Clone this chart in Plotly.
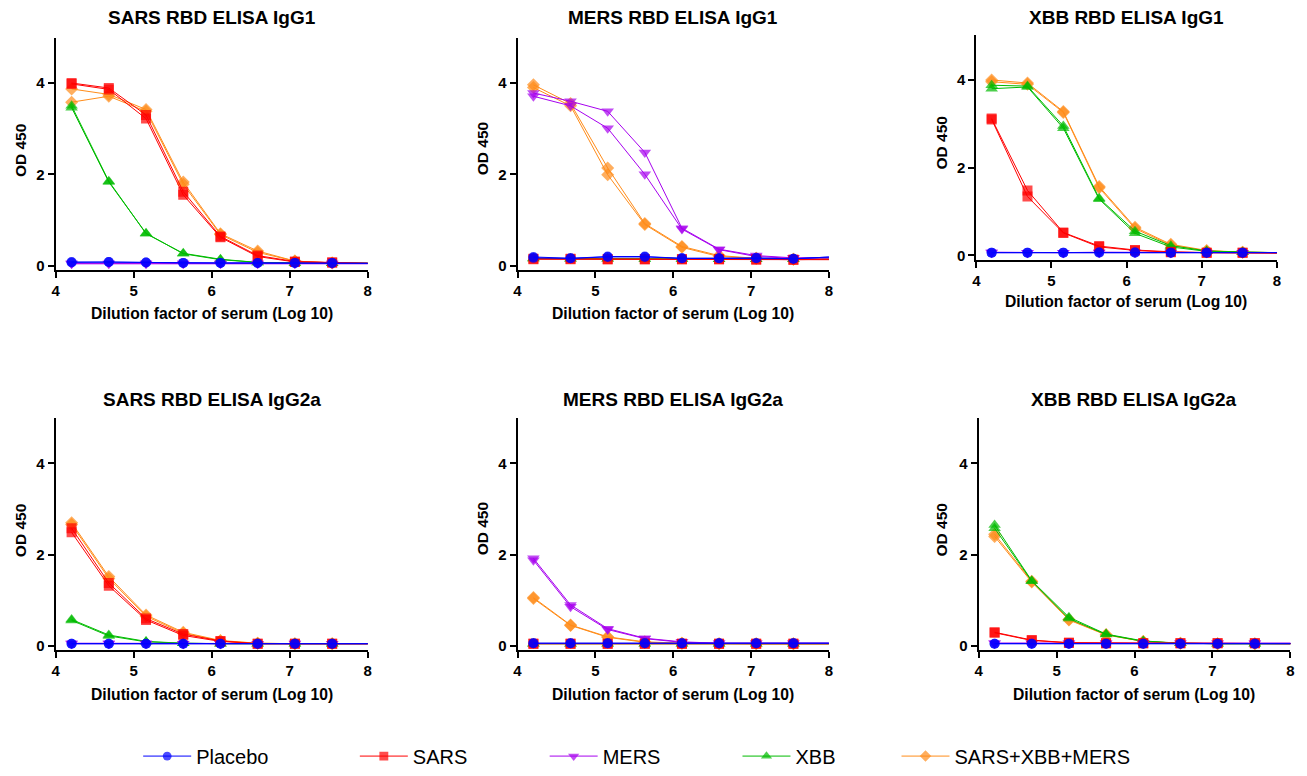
import plotly.graph_objects as go

# ---------------- data ----------------
# Dilution factor of serum (log10): 16000 x 3^k ; last point lies just beyond the axis end (clipped)
dilution_log10 = [4.204, 4.681, 5.158, 5.635, 6.112, 6.589, 7.066, 7.544, 8.021]

groups = ["Placebo", "SARS", "MERS", "XBB", "SARS+XBB+MERS"]
colors = ["#0000FF", "#FF0000", "#A600EE", "#00BB00", "#FF8C1A"]
symbols = ["circle", "square", "triangle-down", "triangle-up", "diamond"]

panel_titles = ["SARS RBD ELISA IgG1", "MERS RBD ELISA IgG1", "XBB RBD ELISA IgG1",
                "SARS RBD ELISA IgG2a", "MERS RBD ELISA IgG2a", "XBB RBD ELISA IgG2a"]
x_title = "Dilution factor of serum (Log 10)"
y_title = "OD 450"
x_ticks = [4, 5, 6, 7, 8]
y_ticks = [0, 2, 4]

# OD450 per panel and group, two replicate curves each
sars_igg1_placebo = [[0.08, 0.08, 0.07, 0.06, 0.06, 0.06, 0.06, 0.06, 0.05],
                     [0.07, 0.08, 0.07, 0.06, 0.06, 0.06, 0.06, 0.06, 0.05]]
sars_igg1_sars = [[4.00, 3.89, 3.30, 1.62, 0.64, 0.22, 0.09, 0.07, 0.05],
                  [3.98, 3.86, 3.22, 1.55, 0.62, 0.20, 0.08, 0.07, 0.05]]
sars_igg1_mers = [[0.05, 0.05, 0.05, 0.05, 0.05, 0.05, 0.05, 0.05, 0.05],
                  [0.04, 0.04, 0.04, 0.04, 0.04, 0.04, 0.04, 0.04, 0.04]]
sars_igg1_xbb = [[3.50, 1.85, 0.70, 0.27, 0.14, 0.07, 0.06, 0.05, 0.05],
                 [3.46, 1.83, 0.71, 0.26, 0.13, 0.07, 0.06, 0.05, 0.05]]
sars_igg1_combo = [[3.87, 3.75, 3.42, 1.83, 0.70, 0.32, 0.10, 0.06, 0.05],
                   [3.58, 3.71, 3.38, 1.78, 0.68, 0.29, 0.10, 0.06, 0.05]]

mers_igg1_placebo = [[0.19, 0.16, 0.20, 0.20, 0.16, 0.16, 0.17, 0.15, 0.19],
                     [0.17, 0.16, 0.19, 0.19, 0.16, 0.16, 0.16, 0.15, 0.19]]
mers_igg1_sars = [[0.15, 0.15, 0.14, 0.14, 0.14, 0.14, 0.14, 0.13, 0.14],
                  [0.14, 0.14, 0.14, 0.14, 0.14, 0.14, 0.13, 0.13, 0.13]]
mers_igg1_mers = [[3.78, 3.60, 3.38, 2.48, 0.82, 0.36, 0.22, 0.17, 0.17],
                  [3.71, 3.50, 3.01, 2.00, 0.80, 0.35, 0.20, 0.16, 0.17]]
mers_igg1_xbb = [[0.16, 0.15, 0.15, 0.15, 0.15, 0.14, 0.14, 0.14, 0.14],
                 [0.15, 0.15, 0.15, 0.14, 0.14, 0.14, 0.14, 0.14, 0.14]]
mers_igg1_combo = [[3.96, 3.55, 2.14, 0.92, 0.42, 0.22, 0.16, 0.14, 0.14],
                   [3.90, 3.50, 1.99, 0.90, 0.40, 0.20, 0.16, 0.14, 0.14]]

xbb_igg1_placebo = [[0.06, 0.06, 0.06, 0.07, 0.07, 0.06, 0.06, 0.06, 0.06],
                    [0.06, 0.06, 0.06, 0.06, 0.06, 0.06, 0.06, 0.06, 0.06]]
xbb_igg1_sars = [[3.12, 1.48, 0.52, 0.21, 0.12, 0.08, 0.06, 0.06, 0.05],
                 [3.10, 1.34, 0.51, 0.19, 0.11, 0.07, 0.06, 0.06, 0.05]]
xbb_igg1_mers = [[0.07, 0.06, 0.06, 0.07, 0.07, 0.06, 0.06, 0.06, 0.06],
                 [0.06, 0.06, 0.06, 0.06, 0.06, 0.06, 0.06, 0.06, 0.06]]
xbb_igg1_xbb = [[3.88, 3.86, 2.95, 1.30, 0.55, 0.22, 0.10, 0.07, 0.06],
                [3.80, 3.84, 2.90, 1.28, 0.50, 0.19, 0.09, 0.07, 0.06]]
xbb_igg1_combo = [[4.00, 3.93, 3.28, 1.57, 0.64, 0.25, 0.11, 0.07, 0.06],
                  [3.96, 3.90, 3.26, 1.54, 0.61, 0.23, 0.10, 0.07, 0.06]]

sars_igg2a_placebo = [[0.05, 0.05, 0.05, 0.05, 0.05, 0.05, 0.05, 0.05, 0.05],
                      [0.05, 0.05, 0.05, 0.05, 0.05, 0.05, 0.05, 0.05, 0.05]]
sars_igg2a_sars = [[2.58, 1.38, 0.60, 0.26, 0.11, 0.05, 0.05, 0.05, 0.05],
                   [2.49, 1.32, 0.57, 0.23, 0.10, 0.05, 0.05, 0.05, 0.05]]
sars_igg2a_mers = [[0.06, 0.06, 0.06, 0.05, 0.05, 0.05, 0.06, 0.05, 0.05],
                   [0.05, 0.05, 0.05, 0.05, 0.05, 0.05, 0.05, 0.05, 0.05]]
sars_igg2a_xbb = [[0.58, 0.24, 0.10, 0.06, 0.05, 0.05, 0.05, 0.05, 0.05],
                  [0.56, 0.22, 0.09, 0.06, 0.05, 0.05, 0.05, 0.05, 0.05]]
sars_igg2a_combo = [[2.70, 1.52, 0.68, 0.30, 0.12, 0.06, 0.05, 0.05, 0.05],
                    [2.66, 1.48, 0.65, 0.28, 0.11, 0.06, 0.05, 0.05, 0.05]]

mers_igg2a_placebo = [[0.06, 0.06, 0.06, 0.06, 0.06, 0.06, 0.06, 0.06, 0.06],
                      [0.06, 0.06, 0.06, 0.06, 0.06, 0.06, 0.06, 0.06, 0.06]]
mers_igg2a_sars = [[0.05, 0.05, 0.05, 0.05, 0.05, 0.05, 0.05, 0.05, 0.05],
                   [0.05, 0.05, 0.05, 0.05, 0.05, 0.05, 0.05, 0.05, 0.05]]
mers_igg2a_mers = [[1.92, 0.90, 0.38, 0.17, 0.09, 0.06, 0.06, 0.06, 0.06],
                   [1.88, 0.86, 0.36, 0.16, 0.08, 0.06, 0.06, 0.06, 0.06]]
mers_igg2a_xbb = [[0.05, 0.05, 0.05, 0.05, 0.05, 0.05, 0.05, 0.05, 0.05],
                  [0.05, 0.05, 0.05, 0.05, 0.05, 0.05, 0.05, 0.05, 0.05]]
mers_igg2a_combo = [[1.06, 0.46, 0.20, 0.09, 0.06, 0.05, 0.05, 0.05, 0.05],
                    [1.04, 0.45, 0.19, 0.08, 0.06, 0.05, 0.05, 0.05, 0.05]]

xbb_igg2a_placebo = [[0.05, 0.05, 0.05, 0.05, 0.05, 0.05, 0.05, 0.05, 0.05],
                     [0.05, 0.05, 0.05, 0.05, 0.05, 0.05, 0.05, 0.05, 0.05]]
xbb_igg2a_sars = [[0.30, 0.13, 0.07, 0.06, 0.06, 0.06, 0.06, 0.06, 0.05],
                  [0.29, 0.12, 0.07, 0.06, 0.06, 0.06, 0.06, 0.06, 0.05]]
xbb_igg2a_mers = [[0.06, 0.06, 0.06, 0.06, 0.06, 0.06, 0.06, 0.06, 0.06],
                  [0.06, 0.06, 0.06, 0.06, 0.06, 0.06, 0.06, 0.06, 0.06]]
xbb_igg2a_xbb = [[2.65, 1.43, 0.63, 0.26, 0.11, 0.06, 0.05, 0.05, 0.05],
                 [2.58, 1.42, 0.60, 0.25, 0.10, 0.06, 0.05, 0.05, 0.05]]
xbb_igg2a_combo = [[2.45, 1.42, 0.58, 0.25, 0.10, 0.06, 0.05, 0.05, 0.05],
                   [2.40, 1.40, 0.57, 0.24, 0.10, 0.06, 0.05, 0.05, 0.05]]

panels = [
    [sars_igg1_placebo, sars_igg1_sars, sars_igg1_mers, sars_igg1_xbb, sars_igg1_combo],
    [mers_igg1_placebo, mers_igg1_sars, mers_igg1_mers, mers_igg1_xbb, mers_igg1_combo],
    [xbb_igg1_placebo, xbb_igg1_sars, xbb_igg1_mers, xbb_igg1_xbb, xbb_igg1_combo],
    [sars_igg2a_placebo, sars_igg2a_sars, sars_igg2a_mers, sars_igg2a_xbb, sars_igg2a_combo],
    [mers_igg2a_placebo, mers_igg2a_sars, mers_igg2a_mers, mers_igg2a_xbb, mers_igg2a_combo],
    [xbb_igg2a_placebo, xbb_igg2a_sars, xbb_igg2a_mers, xbb_igg2a_xbb, xbb_igg2a_combo],
]

# ---------------- layout geometry (pixels) ----------------
W, H = 1307, 776
# (left, right, top, bottom) of each plot area in px
boxes = [(52, 366, 38, 271), (516.7, 830, 38, 271), (978.3, 1280.7, 35, 261),
         (52, 366, 420, 653.3), (516.7, 830, 420, 653.3), (980.7, 1294.3, 420, 653.3)]
y_ranges = [[-0.087, 4.99], [-0.087, 4.99], [-0.1, 5.03],
            [-0.087, 5.0], [-0.087, 5.0], [-0.087, 5.0]]
title_pos = [(209, 18), (673, 18), (1129, 18), (209, 402), (673, 402), (1137, 402)]
xtitle_pos = [(209, 315), (673, 315), (1129, 303), (209, 698), (673, 698), (1137, 698)]
ytitle_pos = [(16, 151), (481, 150), (943, 144), (16, 533), (481, 532), (943, 533)]
marker_sizes = [10, 10, 11, 11, 10]
legend_marker_x = [168, 386, 577, 771, 931]

FONT = "Liberation Sans, Arial, sans-serif"

fig = go.Figure()
layout = dict(width=W, height=H, margin=dict(l=0, r=0, t=0, b=0),
              paper_bgcolor="white", plot_bgcolor="white",
              font=dict(family=FONT, color="black"), annotations=[])

for p, data in enumerate(panels):
    ax = "" if p == 0 else str(p + 1)
    for g in reversed(range(len(groups))):
        for r, reps in enumerate(data[g]):
            show = (p == 0 and r == 0)
            tr = go.Scatter(
                x=dilution_log10, y=reps, mode="lines+markers",
                name=groups[g], xaxis="x" + ax, yaxis="y" + ax,
                line=dict(color=colors[g], width=1),
                marker=dict(symbol=symbols[g], color=colors[g],
                            size=[marker_sizes[g]] * (len(reps) - 1) + [0],
                            line=dict(width=0)),
                showlegend=show, cliponaxis=True,
            )
            if show:
                tr.legend = "legend" if g == 0 else "legend" + str(g + 1)
            fig.add_trace(tr)
    l, rgt, t, b = boxes[p]
    axis_common = dict(showline=True, linecolor="black", linewidth=2, ticks="outside",
                       ticklen=6, tickwidth=2, tickcolor="black", showgrid=False,
                       zeroline=False, tickfont=dict(family=FONT, size=15, color="black", weight="bold"))
    layout["xaxis" + ax] = dict(domain=[l / W, rgt / W], range=[4, 8], tickvals=x_ticks,
                                anchor="y" + ax, **axis_common)
    layout["yaxis" + ax] = dict(domain=[1 - b / H, 1 - t / H], range=y_ranges[p], tickvals=y_ticks,
                                anchor="x" + ax, **axis_common)
    tx, ty = title_pos[p]
    layout["annotations"].append(dict(text="<b>" + panel_titles[p] + "</b>", x=tx / W, y=1 - ty / H,
                                      xref="paper", yref="paper", showarrow=False,
                                      xanchor="center", yanchor="middle",
                                      font=dict(family=FONT, size=19, color="black")))
    xx, xy = xtitle_pos[p]
    layout["annotations"].append(dict(text="<b>" + x_title + "</b>", x=xx / W, y=1 - xy / H,
                                      xref="paper", yref="paper", showarrow=False,
                                      xanchor="center", yanchor="middle",
                                      font=dict(family=FONT, size=15.7, color="black")))
    yx, yy = ytitle_pos[p]
    layout["annotations"].append(dict(text="<b>" + y_title + "</b>", x=yx / W, y=1 - yy / H,
                                      xref="paper", yref="paper", showarrow=False, textangle=-90,
                                      xanchor="center", yanchor="middle",
                                      font=dict(family=FONT, size=15.5, color="black")))

for g in range(len(groups)):
    key = "legend" if g == 0 else "legend" + str(g + 1)
    layout[key] = dict(x=(legend_marker_x[g] - 33) / W, xanchor="left", y=1 - 760 / H,
                       yanchor="middle", orientation="h", bgcolor="rgba(0,0,0,0)",
                       itemwidth=48, font=dict(family=FONT, size=20, color="black"))

fig.update_layout(**layout)
fig.write_html("out.html", config={"displayModeBar": False},
               post_script="document.body.style.margin='0px';document.body.style.overflow='hidden';")
